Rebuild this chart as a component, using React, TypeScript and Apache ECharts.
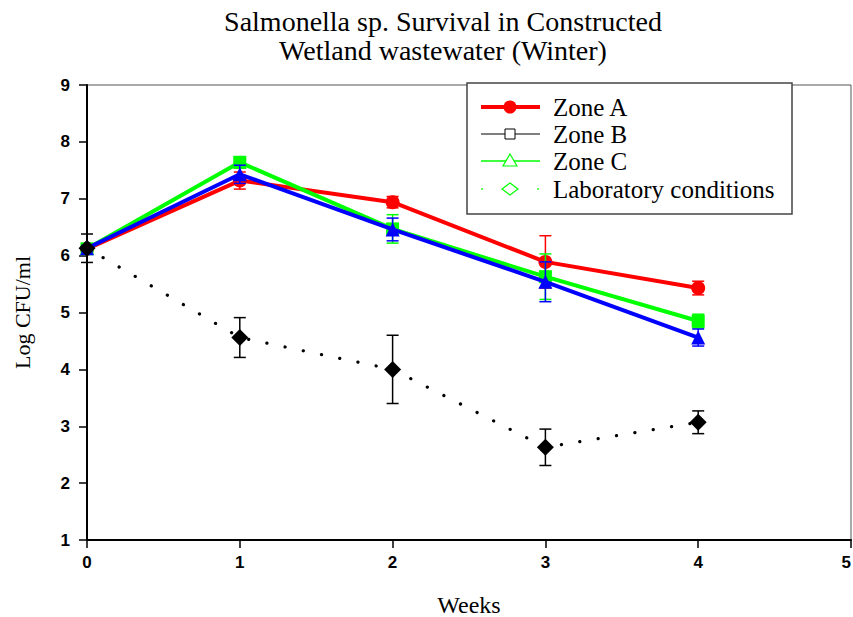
import React, { useEffect, useRef } from "react";
import * as echarts from "echarts";

const weeks = [0, 1, 2, 3, 4];
const zoneA = [6.12, 7.32, 6.94, 5.89, 5.43];
const zoneAErr = [0.05, 0.15, 0.1, 0.46, 0.12];
const zoneGreen = [6.12, 7.64, 6.47, 5.63, 4.85];
const zoneGreenErr = [0.05, 0.1, 0.25, 0.4, 0.12];
const zoneBlue = [6.13, 7.43, 6.46, 5.54, 4.56];
const zoneBlueErr = [0.05, 0.16, 0.2, 0.35, 0.15];
const lab = [6.13, 4.56, 4.0, 2.63, 3.07];
const labErr = [0.25, 0.35, 0.6, 0.32, 0.2];
const legendNames = ["Zone A", "Zone B", "Zone C", "Laboratory conditions"];
const titleLines = ["Salmonella sp. Survival in Constructed", "Wetland wastewater (Winter)"];

const SERIF = "'Liberation Serif', 'Times New Roman', serif";
const SANS = "'Liberation Sans Narrow', 'Liberation Sans', Arial, sans-serif";

function pts(vals: number[]) {
  return weeks.map((w, i) => [w, vals[i]]);
}
function errPts(vals: number[], errs: number[]) {
  return weeks.map((w, i) => [w, vals[i] - errs[i], vals[i] + errs[i]]);
}
function errSeries(vals: number[], errs: number[], color: string, z: number) {
  return {
    type: "custom",
    z,
    data: errPts(vals, errs),
    encode: { x: 0, y: [1, 2] },
    renderItem: (params: any, api: any) => {
      const x = api.value(0);
      const lo = api.coord([x, api.value(1)]);
      const hi = api.coord([x, api.value(2)]);
      const w = 6;
      const style = { stroke: color, lineWidth: 1.5, fill: null };
      return {
        type: "group",
        children: [
          { type: "line", shape: { x1: lo[0], y1: lo[1], x2: hi[0], y2: hi[1] }, style },
          { type: "line", shape: { x1: lo[0] - w, y1: lo[1], x2: lo[0] + w, y2: lo[1] }, style },
          { type: "line", shape: { x1: hi[0] - w, y1: hi[1], x2: hi[0] + w, y2: hi[1] }, style },
        ],
      };
    },
  };
}

export default function App() {
  const ref = useRef<HTMLDivElement>(null);
  useEffect(() => {
    const chart = echarts.init(ref.current!, undefined, { renderer: "svg" });
    const lx1 = 481, lx2 = 540, sx = 510, tx = 553;
    const ly = [107, 134, 161, 189];
    const legendText = (i: number) => ({
      type: "text",
      x: tx,
      y: ly[i],
      z: 101,
      style: {
        text: legendNames[i],
        font: `25px ${SERIF}`,
        fill: "#000",
        verticalAlign: "middle",
      },
    });
    const option: any = {
      animation: false,
      backgroundColor: "#fff",
      grid: {
        left: 87,
        top: 85,
        width: 764,
        height: 455,
        show: true,
        borderColor: "#555",
        borderWidth: 1,
        containLabel: false,
        outerBoundsMode: "none",
      },
      xAxis: {
        type: "value",
        min: 0,
        max: 5,
        interval: 1,
        name: "Weeks",
        nameLocation: "middle",
        nameGap: 53,
        nameTextStyle: { fontFamily: SERIF, fontSize: 24, color: "#000" },
        axisLine: { show: true, onZero: false, lineStyle: { color: "#000", width: 2 } },
        axisTick: { show: true, inside: false, length: 8, lineStyle: { color: "#000", width: 1.5 } },
        axisLabel: {
          fontFamily: SANS,
          fontWeight: "bold",
          fontSize: 17,
          color: "#000",
          margin: 14,
          alignMaxLabel: "right",
        },
        splitLine: { show: false },
      },
      yAxis: {
        type: "value",
        min: 1,
        max: 9,
        interval: 1,
        name: "Log CFU/ml",
        nameLocation: "middle",
        nameRotate: 90,
        nameGap: 54,
        nameTextStyle: { fontFamily: SERIF, fontSize: 22, color: "#000" },
        axisLine: { show: true, onZero: false, lineStyle: { color: "#000", width: 2 } },
        axisTick: { show: true, inside: false, length: 8, lineStyle: { color: "#000", width: 1.5 } },
        axisLabel: { fontFamily: SANS, fontWeight: "bold", fontSize: 17, color: "#000", margin: 17 },
        splitLine: { show: false },
      },
      series: [
        {
          type: "line",
          name: "Zone A",
          z: 3,
          data: pts(zoneA),
          symbol: "circle",
          symbolSize: 14,
          lineStyle: { color: "#ff0000", width: 4 },
          itemStyle: { color: "#ff0000" },
        },
        errSeries(zoneA, zoneAErr, "#ff0000", 3),
        {
          type: "line",
          name: "Zone C",
          z: 4,
          data: pts(zoneGreen),
          symbol: "rect",
          symbolSize: 13,
          lineStyle: { color: "#00ff00", width: 4 },
          itemStyle: { color: "#00ff00" },
        },
        errSeries(zoneGreen, zoneGreenErr, "#00ff00", 4),
        {
          type: "line",
          name: "Zone B",
          z: 5,
          data: pts(zoneBlue),
          symbol: "triangle",
          symbolSize: 14,
          lineStyle: { color: "#0000ff", width: 4 },
          itemStyle: { color: "#0000ff" },
        },
        errSeries(zoneBlue, zoneBlueErr, "#0000ff", 5),
        {
          type: "line",
          name: "Laboratory conditions",
          z: 6,
          data: pts(lab),
          symbol: "diamond",
          symbolSize: 17,
          lineStyle: { color: "#000", width: 3.2, type: [0.1, 18.5], cap: "round" },
          itemStyle: { color: "#000" },
        },
        errSeries(lab, labErr, "#000", 6),
      ],
      graphic: [
        {
          type: "text",
          x: 443,
          y: 7,
          style: {
            text: titleLines.join("\n"),
            font: `28px ${SERIF}`,
            fill: "#000",
            align: "center",
            verticalAlign: "top",
            lineHeight: 29,
          },
        },
        {
          type: "rect",
          z: 100,
          shape: { x: 467, y: 83, width: 325, height: 131 },
          style: { fill: "#fff", stroke: "#444", lineWidth: 1.5 },
        },
        { type: "line", z: 101, shape: { x1: lx1, y1: ly[0], x2: lx2, y2: ly[0] }, style: { stroke: "#ff0000", lineWidth: 4 } },
        { type: "circle", z: 102, shape: { cx: sx, cy: ly[0], r: 6.5 }, style: { fill: "#ff0000" } },
        legendText(0),
        { type: "line", z: 101, shape: { x1: lx1, y1: ly[1], x2: lx2, y2: ly[1] }, style: { stroke: "#555", lineWidth: 1.5 } },
        { type: "rect", z: 102, shape: { x: sx - 5, y: ly[1] - 5, width: 10, height: 10 }, style: { fill: "#fff", stroke: "#000", lineWidth: 1 } },
        legendText(1),
        { type: "line", z: 101, shape: { x1: lx1, y1: ly[2], x2: lx2, y2: ly[2] }, style: { stroke: "#00ff00", lineWidth: 1.5 } },
        { type: "polygon", z: 102, shape: { points: [[sx, ly[2] - 7], [sx + 7, ly[2] + 5], [sx - 7, ly[2] + 5]] }, style: { fill: "#fff", stroke: "#00ff00", lineWidth: 1.2 } },
        legendText(2),
        { type: "circle", z: 101, shape: { cx: lx1 + 1, cy: ly[3], r: 0.8 }, style: { fill: "#00ff00" } },
        { type: "circle", z: 101, shape: { cx: lx2 - 2, cy: ly[3], r: 0.8 }, style: { fill: "#00ff00" } },
        { type: "polygon", z: 102, shape: { points: [[sx, ly[3] - 6], [sx + 8, ly[3]], [sx, ly[3] + 6], [sx - 8, ly[3]]] }, style: { fill: "#fff", stroke: "#00ff00", lineWidth: 1.2 } },
        legendText(3),
      ],
    };
    chart.setOption(option);
    return () => chart.dispose();
  }, []);
  return (
    <div
      ref={ref}
      style={{ position: "fixed", left: 0, top: 0, width: 853, height: 617, background: "#fff" }}
    />
  );
}
